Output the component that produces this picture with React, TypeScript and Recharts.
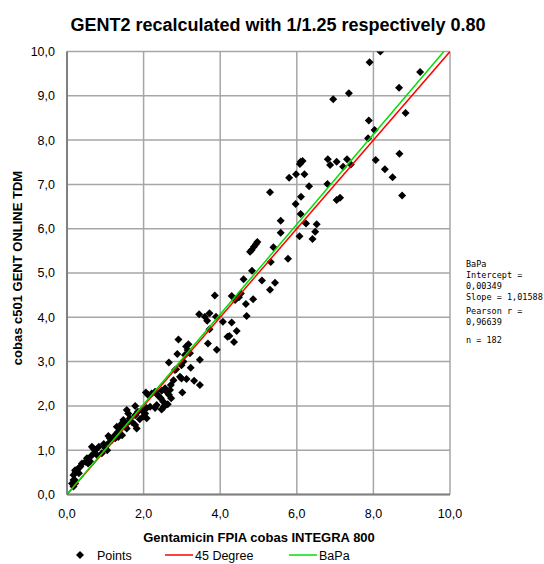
import React from "react";
import {
  ScatterChart,
  Scatter,
  XAxis,
  YAxis,
  CartesianGrid,
} from "recharts";

const FONT = "'Liberation Sans Narrow', 'Arial Narrow', 'Liberation Sans', Arial, sans-serif";
const MONO = "'DejaVu Sans Mono', 'Liberation Mono', monospace";

const titleText = "GENT2 recalculated with 1/1.25 respectively 0.80";
const xAxisTitle = "Gentamicin FPIA cobas INTEGRA 800";
const yAxisTitle = "cobas c501 GENT ONLINE TDM";

const xTicks = [0, 2, 4, 6, 8, 10];
const yTicks = [0, 1, 2, 3, 4, 5, 6, 7, 8, 9, 10];

const lowPoints: [number, number][] = [
  [0.13, 0.25], [0.17, 0.18], [0.17, 0.33], [0.2, 0.33], [0.21, 0.25], [0.17, 0.44],
  [0.21, 0.55], [0.22, 0.51], [0.26, 0.55], [0.3, 0.59], [0.31, 0.48], [0.35, 0.63],
  [0.39, 0.7], [0.48, 0.74], [0.52, 0.82], [0.55, 0.7], [0.6, 0.75], [0.61, 0.85],
  [0.65, 1.08], [0.69, 1.04], [0.7, 0.93], [0.74, 1.0], [0.78, 0.89], [0.83, 1.08],
  [0.91, 0.93], [0.96, 1.14],
];

const onePoints: [number, number][] = [
  [1.0, 1.05], [1.05, 1.0], [1.08, 1.32], [1.09, 1.16], [1.12, 1.27], [1.17, 1.23],
  [1.25, 1.34], [1.26, 1.27], [1.3, 1.53], [1.31, 1.38], [1.34, 1.42], [1.34, 1.3],
  [1.39, 1.49], [1.43, 1.59], [1.44, 1.61], [1.44, 1.34], [1.47, 1.68], [1.51, 1.57],
  [1.52, 1.53], [1.56, 1.49], [1.56, 1.91], [1.6, 1.83], [1.61, 1.64], [1.64, 1.72],
  [1.69, 1.64], [1.78, 1.57], [1.78, 1.79], [1.78, 2.0], [1.82, 1.49], [1.85, 1.87],
  [1.95, 1.91], [1.99, 1.76], [1.9, 1.7],
];

const twoPoints: [number, number][] = [
  [2.04, 1.83], [2.08, 1.72], [2.08, 1.95], [2.17, 1.98], [2.3, 1.95], [2.34, 2.02],
  [2.47, 1.92], [2.52, 1.97], [2.51, 2.1], [2.56, 2.02], [2.63, 2.04], [2.06, 2.3],
  [2.11, 2.25], [2.3, 2.32], [2.34, 2.27], [2.4, 2.21], [2.45, 2.17], [2.21, 2.28],
  [2.47, 2.34], [2.56, 2.4], [2.6, 2.32], [2.66, 2.25], [2.72, 2.17], [2.69, 2.36],
  [2.71, 2.47], [2.78, 2.58], [2.82, 2.81], [2.85, 2.83], [2.66, 2.98], [2.88, 3.17],
  [2.91, 3.5], [2.95, 2.66], [2.99, 2.62], [2.99, 2.92],
];

const threePoints: [number, number][] = [
  [3.01, 2.3], [3.04, 3.0], [3.08, 3.15], [3.11, 3.34], [3.12, 2.61], [3.15, 3.26],
  [3.17, 3.39], [3.21, 3.19], [3.23, 2.86], [3.32, 2.57], [3.47, 2.47], [3.47, 3.04],
  [3.45, 4.07], [3.6, 4.01], [3.66, 3.92], [3.68, 3.41], [3.72, 4.09], [3.72, 3.73],
  [3.86, 4.49], [3.89, 4.01], [3.91, 3.27],
];

const fourPoints: [number, number][] = [
  [4.07, 3.9], [4.19, 3.56], [4.24, 3.58], [4.3, 3.88], [4.3, 4.48], [4.36, 3.44],
  [4.39, 4.39], [4.43, 3.69], [4.49, 4.45], [4.54, 4.54], [4.67, 4.3], [4.69, 4.03],
  [4.61, 4.86], [4.78, 5.48], [4.83, 5.05], [4.82, 5.52], [4.86, 4.41], [4.88, 5.59],
  [4.93, 5.65], [4.97, 5.7],
];

const fivePoints: [number, number][] = [
  [5.09, 4.83], [5.3, 6.82], [5.3, 4.62], [5.32, 5.25], [5.39, 5.58], [5.43, 4.78],
  [5.58, 5.91], [5.58, 6.18], [5.77, 5.32], [5.8, 7.15], [5.97, 6.56], [5.98, 7.23],
];

const sixPoints: [number, number][] = [
  [6.07, 5.83], [6.1, 6.33], [6.11, 6.72], [6.08, 7.46], [6.1, 7.51], [6.15, 7.53],
  [6.2, 7.23], [6.24, 6.12], [6.32, 6.96], [6.41, 5.77], [6.48, 5.93], [6.52, 6.1],
  [6.8, 7.01], [6.81, 7.57], [6.87, 7.44], [6.95, 8.92],
];

const highPoints: [number, number][] = [
  [7.04, 7.51], [7.04, 6.65], [7.13, 6.7], [7.21, 7.4], [7.31, 7.57], [7.36, 9.06],
  [7.41, 7.45], [7.88, 8.44], [7.86, 8.04], [7.9, 9.76], [8.03, 8.23], [8.06, 7.55],
  [8.18, 10.0], [8.3, 7.34], [8.5, 7.16], [8.68, 7.69], [8.67, 9.18], [8.75, 6.75],
  [8.84, 8.61], [9.22, 9.54],
];

const bapaIntercept = 0.00349;
const bapaSlope = 1.01588;
const pearsonR = "0,96639";

const statsLines: { text: string; y: number }[] = [
  { text: "BaPa", y: 267 },
  { text: "Intercept =", y: 278 },
  { text: "0,00349", y: 289 },
  { text: "Slope = 1,01588", y: 299.5 },
  { text: "Pearson r =", y: 314 },
  { text: pearsonR, y: 325 },
  { text: "n = 182", y: 343 },
];

const legendItems = [
  { label: "Points", kind: "diamond", color: "#000", x: 76 },
  { label: "45 Degree", kind: "line", color: "#ff0000", x: 165 },
  { label: "BaPa", kind: "line", color: "#00e000", x: 289 },
];

const allPoints = [
  ...lowPoints, ...onePoints, ...twoPoints, ...threePoints, ...fourPoints,
  ...fivePoints, ...sixPoints, ...highPoints,
].map(([x, y]) => ({ x, y }));

const line45 = [{ x: 0, y: 0 }, { x: 10, y: 10 }];
const lineBapa = [
  { x: 0, y: bapaIntercept },
  { x: (10 - bapaIntercept) / bapaSlope, y: 10 },
];

const fmt = (v: number) => v.toFixed(1).replace(".", ",");

const Diamond = (props: any) => {
  const { cx, cy } = props;
  if (cx == null || cy == null) return <g />;
  const r = 4;
  return (
    <polygon
      points={`${cx},${cy - r} ${cx + r},${cy} ${cx},${cy + r} ${cx - r},${cy}`}
      fill="#000"
    />
  );
};

const NoShape = () => <g />;

export default function App() {
  const legendY = 555;
  return (
    <div style={{ position: "absolute", left: 0, top: 0, width: 544, height: 564, background: "#fff", overflow: "hidden" }}>
      <ScatterChart
        width={544}
        height={564}
        margin={{ top: 51.5, right: 94, bottom: 19.5, left: 0 }}
      >
        <CartesianGrid stroke="#a6a6a6" strokeWidth={1.5} horizontalValues={yTicks} verticalValues={xTicks} />
        <XAxis
          type="number"
          dataKey="x"
          domain={[0, 10]}
          ticks={xTicks}
          tickFormatter={fmt}
          height={50}
          tickLine={false}
          tickSize={10}
          tickMargin={5}
          axisLine={{ stroke: "#808080", strokeWidth: 2 }}
          tick={{ fill: "#000", fontSize: 12.5, fontFamily: FONT }}
          allowDataOverflow
        />
        <YAxis
          type="number"
          dataKey="y"
          domain={[0, 10]}
          ticks={yTicks}
          tickFormatter={fmt}
          width={67}
          tickLine={false}
          tickSize={8}
          tickMargin={4}
          axisLine={{ stroke: "#808080", strokeWidth: 2 }}
          tick={{ fill: "#000", fontSize: 12.5, fontFamily: FONT }}
          allowDataOverflow
        />
        <Scatter
          data={allPoints}
          shape={Diamond}
          isAnimationActive={false}
        />
        <Scatter
          data={line45}
          line={{ stroke: "#ff0000", strokeWidth: 1.5 }}
          shape={NoShape}
          isAnimationActive={false}
        />
        <Scatter
          data={lineBapa}
          line={{ stroke: "#00e000", strokeWidth: 1.5 }}
          shape={NoShape}
          isAnimationActive={false}
        />
      </ScatterChart>
      <svg
        width={544}
        height={564}
        style={{ position: "absolute", left: 0, top: 0, pointerEvents: "none" }}
      >
        <text x={278} y={31} textAnchor="middle" fontSize={18} fontWeight="bold" fontFamily={FONT} fill="#000">
          {titleText}
        </text>
        <text
          transform="translate(22, 268) rotate(-90)"
          textAnchor="middle"
          fontSize={13}
          fontWeight="bold"
          fontFamily={FONT}
          fill="#000"
        >
          {yAxisTitle}
        </text>
        <text x={259} y={542} textAnchor="middle" fontSize={13} fontWeight="bold" fontFamily={FONT} fill="#000">
          {xAxisTitle}
        </text>
        {statsLines.map((l, i) => (
          <text key={i} x={466} y={l.y} fontSize={8.5} fontFamily={MONO} fill="#000">
            {l.text}
          </text>
        ))}
        {legendItems.map((it) => (
          <g key={it.label}>
            {it.kind === "diamond" ? (
              <polygon
                points={`${it.x + 4},${legendY - 4} ${it.x + 8},${legendY} ${it.x + 4},${legendY + 4} ${it.x},${legendY}`}
                fill={it.color}
              />
            ) : (
              <line x1={it.x} y1={legendY} x2={it.x + 28} y2={legendY} stroke={it.color} strokeWidth={1.5} />
            )}
            <text
              x={it.kind === "diamond" ? it.x + 21 : it.x + 30}
              y={legendY + 4.5}
              fontSize={12.5}
              fontFamily={FONT}
              fill="#000"
            >
              {it.label}
            </text>
          </g>
        ))}
      </svg>
    </div>
  );
}
